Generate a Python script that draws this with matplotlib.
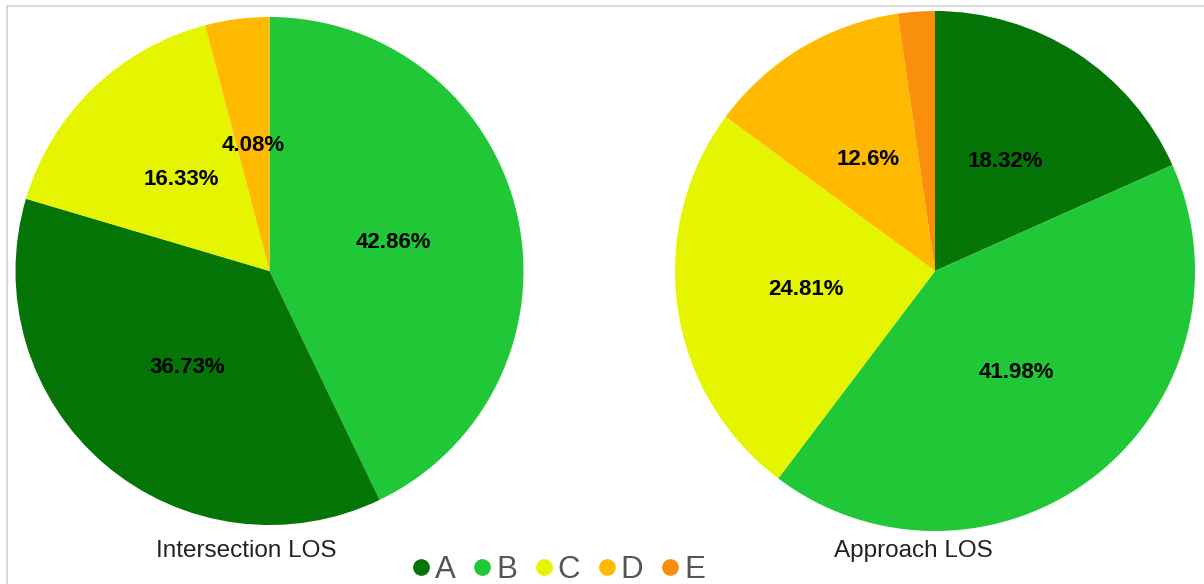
import matplotlib
matplotlib.use("Agg")
from matplotlib import pyplot as plt
from matplotlib.lines import Line2D
from matplotlib.patches import Rectangle

plt.rcParams['font.family'] = ['Liberation Sans', 'DejaVu Sans']

# LOS categories and colours
categories = ['A', 'B', 'C', 'D', 'E']
colors = {'A': '#057508', 'B': '#20c838', 'C': '#e5f500', 'D': '#ffb900', 'E': '#fa8f0e'}

# share of each LOS (percent), in the order the slices are drawn (clockwise from top)
intersection_cats = ['B', 'A', 'C', 'D']
intersection_vals = [42.86, 36.73, 16.33, 4.08]

approach_cats = ['A', 'B', 'C', 'D', 'E']
approach_vals = [18.32, 41.98, 24.81, 12.6, 2.29]

W, H = 1204, 584
fig = plt.figure(figsize=(W / 100, H / 100), dpi=100)


def pct(p):
    # hide labels on tiny slices
    if p < 3:
        return ''
    return f'{round(p, 2):g}%'


def draw_pie(cx, cy, r, cats, vals, title, tx):
    ax = fig.add_axes([(cx - r) / W, (H - cy - r) / H, 2 * r / W, 2 * r / H])
    ax.pie(vals, colors=[colors[c] for c in cats], startangle=90, counterclock=False,
           autopct=pct, pctdistance=0.5, radius=1,
           textprops=dict(fontsize=16, fontweight='bold', color='black'))
    ax.set_xlim(-1, 1)
    ax.set_ylim(-1, 1)
    ax.set_aspect('equal')
    ax.axis('off')
    fig.text(tx / W, 1 - 551 / H, title, ha='center', va='center', fontsize=17.5, color='#222222')


draw_pie(269.5, 271, 254, intersection_cats, intersection_vals, 'Intersection LOS', 246.5)
draw_pie(935, 271, 260, approach_cats, approach_vals, 'Approach LOS', 913.5)

# light frame (right and bottom edges fall outside the image)
fig.patches.append(Rectangle((7 / W, -0.1), 1.2, 1 - 6 / H + 0.1, transform=fig.transFigure,
                             fill=False, edgecolor='#d9d9d9', lw=1.5))

handles = [Line2D([], [], marker='o', ls='', color=colors[c], markersize=11) for c in categories]
fig.legend(handles, categories, loc='center', bbox_to_anchor=(558 / W, 1 - 570 / H), ncol=5,
           frameon=False, fontsize=22.5, handlelength=0.6, handletextpad=0.15,
           columnspacing=0.55, labelcolor='#555555', borderpad=0, borderaxespad=0)

plt.savefig('out.png', dpi=100)
